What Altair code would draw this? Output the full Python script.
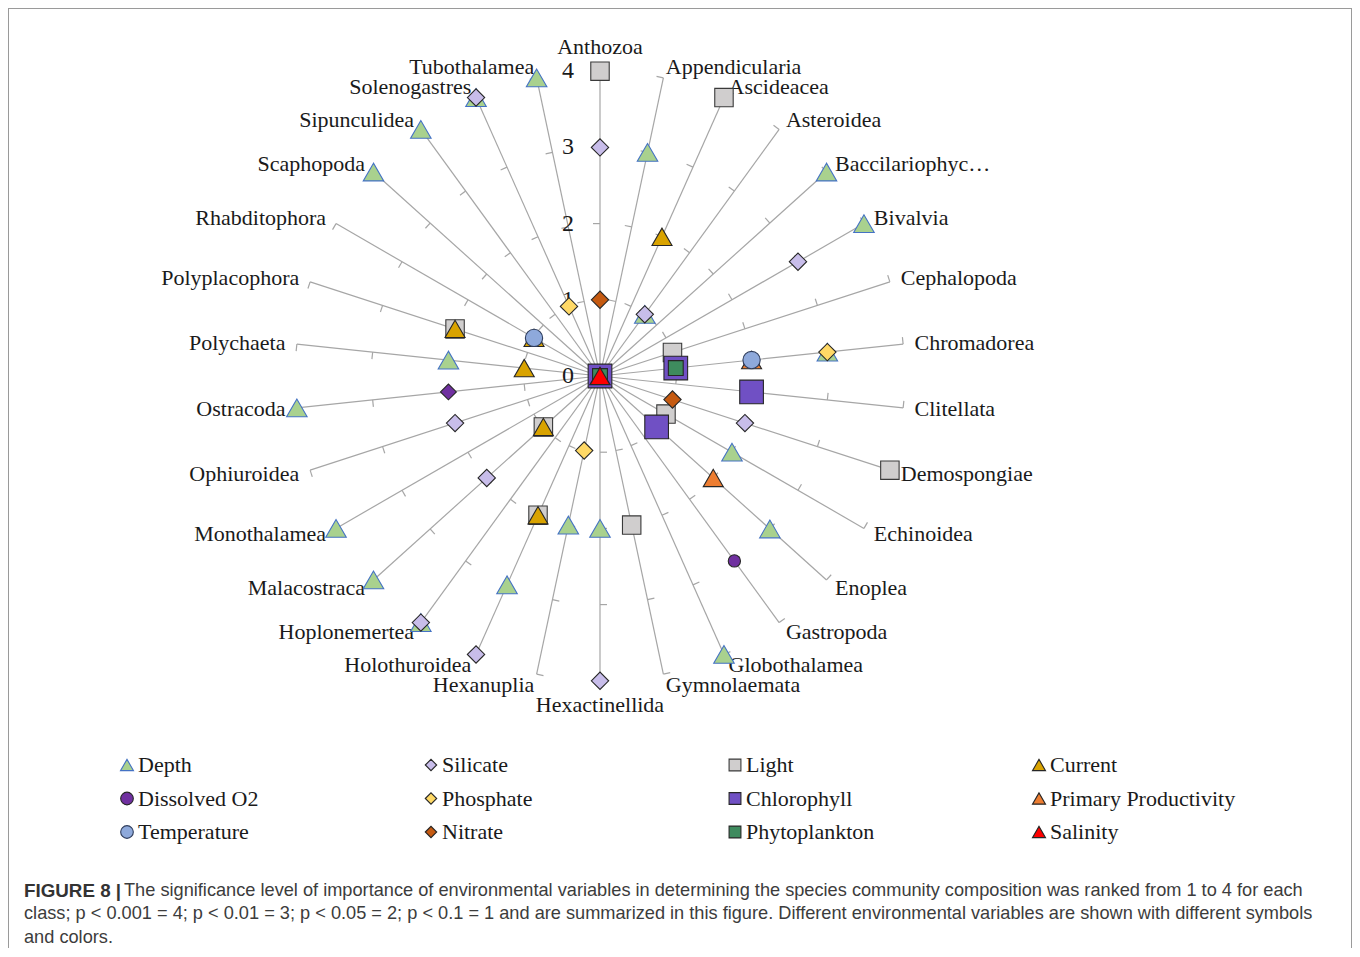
import altair as alt
import pandas as pd

# ---------------- data ----------------
CLASSES = ["Anthozoa", "Appendicularia", "Ascideacea", "Asteroidea", "Baccilariophyc…",
           "Bivalvia", "Cephalopoda", "Chromadorea", "Clitellata", "Demospongiae",
           "Echinoidea", "Enoplea", "Gastropoda", "Globothalamea", "Gymnolaemata",
           "Hexactinellida", "Hexanuplia", "Holothuroidea", "Hoplonemertea", "Malacostraca",
           "Monothalamea", "Ophiuroidea", "Ostracoda", "Polychaeta", "Polyplacophora",
           "Rhabditophora", "Scaphopoda", "Sipunculidea", "Solenogastres", "Tubothalamea"]

SERIES = ["Depth", "Silicate", "Light", "Current",
          "Dissolved O2", "Phosphate", "Chlorophyll", "Primary Productivity",
          "Temperature", "Nitrate", "Phytoplankton", "Salinity"]

PT_CLASS = ["Anthozoa", "Anthozoa", "Anthozoa", "Anthozoa", "Anthozoa", "Anthozoa", "Anthozoa", "Anthozoa",
            "Appendicularia",
            "Ascideacea", "Ascideacea",
            "Asteroidea", "Asteroidea",
            "Baccilariophyc…",
            "Bivalvia", "Bivalvia",
            "Cephalopoda",
            "Chromadorea", "Chromadorea", "Chromadorea", "Chromadorea", "Chromadorea", "Chromadorea",
            "Clitellata",
            "Demospongiae", "Demospongiae", "Demospongiae",
            "Echinoidea", "Echinoidea",
            "Enoplea", "Enoplea", "Enoplea",
            "Gastropoda",
            "Globothalamea",
            "Gymnolaemata",
            "Hexactinellida", "Hexactinellida",
            "Hexanuplia", "Hexanuplia",
            "Holothuroidea", "Holothuroidea", "Holothuroidea", "Holothuroidea",
            "Hoplonemertea", "Hoplonemertea",
            "Malacostraca", "Malacostraca", "Malacostraca", "Malacostraca",
            "Monothalamea",
            "Ophiuroidea",
            "Ostracoda", "Ostracoda",
            "Polychaeta", "Polychaeta",
            "Polyplacophora", "Polyplacophora",
            "Rhabditophora", "Rhabditophora",
            "Scaphopoda",
            "Sipunculidea",
            "Solenogastres", "Solenogastres", "Solenogastres",
            "Tubothalamea"]

PT_SERIES = ["Light", "Silicate", "Nitrate", "Current", "Chlorophyll", "Primary Productivity", "Phytoplankton", "Salinity",
             "Depth",
             "Light", "Current",
             "Depth", "Silicate",
             "Depth",
             "Depth", "Silicate",
             "Light",
             "Depth", "Phosphate", "Primary Productivity", "Temperature", "Chlorophyll", "Phytoplankton",
             "Chlorophyll",
             "Light", "Silicate", "Nitrate",
             "Depth", "Light",
             "Depth", "Primary Productivity", "Chlorophyll",
             "Dissolved O2",
             "Depth",
             "Light",
             "Silicate", "Depth",
             "Depth", "Phosphate",
             "Silicate", "Depth", "Light", "Current",
             "Depth", "Silicate",
             "Depth", "Silicate", "Light", "Current",
             "Depth",
             "Silicate",
             "Depth", "Dissolved O2",
             "Depth", "Current",
             "Light", "Current",
             "Current", "Temperature",
             "Depth",
             "Depth",
             "Depth", "Silicate", "Phosphate",
             "Depth"]

PT_VALUE = [4, 3, 1, 0, 0, 0, 0, 0,
            3,
            4, 2,
            1, 1,
            4,
            4, 3,
            1,
            3, 3, 2, 2, 1, 1,
            2,
            4, 2, 1,
            2, 1,
            3, 2, 1,
            3,
            4,
            2,
            4, 2,
            2, 1,
            4, 3, 2, 2,
            4, 4,
            4, 2, 1, 1,
            4,
            2,
            4, 2,
            2, 1,
            2, 2,
            1, 1,
            4,
            4,
            4, 4, 1,
            4]

RADIAL_TICKS = [0, 1, 2, 3, 4]
TICK_STEPS = [1, 2, 3, 4]

CAPTION_BOLD = "FIGURE 8 |"
CAPTION_LINES = [
    "The significance level of importance of environmental variables in determining the species community composition was ranked from 1 to 4 for each",
    "class; p < 0.001 = 4; p < 0.01 = 3; p < 0.05 = 2; p < 0.1 = 1 and are summarized in this figure. Different environmental variables are shown with different symbols",
    "and colors.",
]

# ---------------- styles ----------------
SHAPES = ["triangle-up", "diamond", "square", "triangle-up",
          "circle", "diamond", "square", "triangle-up",
          "circle", "diamond", "square", "triangle-up"]
FILLS = ["#A9D18E", "#C8BDEA", "#D0CECE", "#D9A300",
         "#7030A0", "#FFD966", "#7050C4", "#ED7D31",
         "#8EA9DB", "#C55A11", "#3E8B5E", "#FF0000"]
STROKES = ["#4472C4", "#262626", "#3A3A3A", "#262626",
           "#262626", "#262626", "#262626", "#262626",
           "#2F3D5C", "#262626", "#262626", "#262626"]
SIZES = [420, 300, 340, 400,
         150, 300, 560, 400,
         300, 300, 220, 380]
LEG_SIZES = [170, 130, 140, 170,
             160, 130, 140, 170,
             160, 130, 140, 170]

SERIF = "Liberation Serif"
SANS = "Liberation Sans, Arial"

W, H = 1344, 940
CX, CY, U = 592.0, 368.0, 76.2
XS = alt.Scale(domain=[-CX / U, (W - CX) / U], nice=False, zero=False)
YS = alt.Scale(domain=[-(H - CY) / U, CY / U], nice=False, zero=False)
N = len(CLASSES)
ANG = f"datum.idx*2*PI/{N}"


def X(field):
    return alt.X(f"{field}:Q", scale=XS, axis=None)


def Y(field):
    return alt.Y(f"{field}:Q", scale=YS, axis=None)


def px_to_x(expr):
    return f"(({expr}) - {CX})/{U}"


def py_to_y(expr):
    return f"({CY} - ({expr}))/{U}"


def enc_scales(field, sizes):
    return dict(
        shape=alt.Shape(f"{field}:N", scale=alt.Scale(type="ordinal", domain=SERIES, range=SHAPES), legend=None),
        size=alt.Size(f"{field}:N", scale=alt.Scale(type="ordinal", domain=SERIES, range=sizes), legend=None),
        fill=alt.Fill(f"{field}:N", scale=alt.Scale(domain=SERIES, range=FILLS), legend=None),
        stroke=alt.Stroke(f"{field}:N", scale=alt.Scale(domain=SERIES, range=STROKES), legend=None),
    )


cls_df = pd.DataFrame({"cls": CLASSES, "idx": list(range(N))})

# axis spokes
spokes = alt.Chart(cls_df).transform_calculate(
    a=ANG, x0="0", y0="0", x1="4*sin(datum.a)", y1="4*cos(datum.a)"
).mark_rule(color="#A6A6A6", strokeWidth=1.2).encode(
    x=X("x0"), y=Y("y0"), x2="x1:Q", y2="y1:Q"
)

# tick marks
tick_df = pd.DataFrame([{"idx": i, "r": r} for i in range(N) for r in TICK_STEPS])
L = 7.0 / U
ticks = alt.Chart(tick_df).transform_calculate(
    a=ANG,
    tx0="datum.r*sin(datum.a)",
    ty0="datum.r*cos(datum.a)",
).transform_calculate(
    tx1=f"datum.tx0 - {L}*cos(datum.a)",
    ty1=f"datum.ty0 + {L}*sin(datum.a)",
).mark_rule(color="#A6A6A6", strokeWidth=1.2).encode(
    x=X("tx0"), y=Y("ty0"), x2="tx1:Q", y2="ty1:Q"
)

# radial numbers
num_df = pd.DataFrame({"v": RADIAL_TICKS})
nums = alt.Chart(num_df).transform_calculate(
    nx=str(-32.0 / U), lab="datum.v + ''"
).mark_text(font=SERIF, fontSize=24, color="#1A1A1A", align="center", baseline="middle").encode(
    x=X("nx"), y=Y("v"), text="lab:N"
)

# class labels
lab_base = alt.Chart(cls_df).transform_calculate(
    a=ANG, s="sin(datum.a)", c="cos(datum.a)"
)
R_SIDE, R_TB = 4.15, 4.32
lab_right = lab_base.transform_filter("datum.s > 0.01").transform_calculate(
    lx=f"{R_SIDE}*datum.s", ly=f"{R_SIDE}*datum.c"
).mark_text(font=SERIF, fontSize=22, color="#1A1A1A", align="left", baseline="middle").encode(
    x=X("lx"), y=Y("ly"), text="cls:N"
)
lab_left = lab_base.transform_filter("datum.s < -0.01").transform_calculate(
    lx=f"{R_SIDE}*datum.s", ly=f"{R_SIDE}*datum.c"
).mark_text(font=SERIF, fontSize=22, color="#1A1A1A", align="right", baseline="middle").encode(
    x=X("lx"), y=Y("ly"), text="cls:N"
)
lab_mid = lab_base.transform_filter("abs(datum.s) <= 0.01").transform_calculate(
    lx="0", ly=f"{R_TB}*datum.c"
).mark_text(font=SERIF, fontSize=22, color="#1A1A1A", align="center", baseline="middle").encode(
    x=X("lx"), y=Y("ly"), text="cls:N"
)

# points
pts = pd.DataFrame({"cls": PT_CLASS, "series": PT_SERIES, "value": PT_VALUE})
pts["idx"] = [CLASSES.index(c) for c in pts["cls"]]
pts["sidx"] = [SERIES.index(s) for s in pts["series"]]
pts = pts.sort_values("sidx", kind="stable").reset_index(drop=True)

odd = "datum.series == 'Dissolved O2' && datum.cls == 'Ostracoda'"
pe = enc_scales("series", SIZES)
points = alt.Chart(pts).transform_calculate(
    a=ANG, px="datum.value*sin(datum.a)", py="datum.value*cos(datum.a)"
).mark_point(filled=True, opacity=1, strokeWidth=1.1).encode(
    x=X("px"), y=Y("py"),
    shape=alt.condition(odd, alt.value("diamond"), pe["shape"]),
    size=alt.condition(odd, alt.value(250), pe["size"]),
    fill=pe["fill"],
    stroke=pe["stroke"],
)

# custom legend (independent size scale)
leg_df = pd.DataFrame({"series": SERIES, "i": list(range(len(SERIES)))})
leg_base = alt.Chart(leg_df).transform_calculate(
    col="datum.i % 4", row="floor(datum.i / 4)"
).transform_calculate(
    mx=px_to_x("119 + datum.col*304"),
    tx=px_to_x("130 + datum.col*304"),
    my=py_to_y("757 + datum.row*33.5"),
)
le = enc_scales("series", LEG_SIZES)
leg_marks = leg_base.mark_point(filled=True, opacity=1, strokeWidth=1.1).encode(
    x=X("mx"), y=Y("my"), **le
)
leg_text = leg_base.mark_text(font=SERIF, fontSize=22, color="#1A1A1A", align="left", baseline="middle").encode(
    x=X("tx"), y=Y("my"), text="series:N"
)

# caption
CAP_SIZE = 18.2
cap_df = pd.DataFrame({"line": CAPTION_LINES, "k": list(range(len(CAPTION_LINES)))})
cap_text = alt.Chart(cap_df).transform_calculate(
    cx=px_to_x("datum.k == 0 ? 116 : 16"),
    cy=py_to_y("882.5 + datum.k*23.5"),
).mark_text(font=SANS, fontSize=CAP_SIZE, color="#3C3C3C", align="left", baseline="middle").encode(
    x=X("cx"), y=Y("cy"), text="line:N"
)
bold_df = pd.DataFrame({"t": [CAPTION_BOLD]})
cap_bold = alt.Chart(bold_df).transform_calculate(
    cx=px_to_x("16"), cy=py_to_y("882.5")
).mark_text(font=SANS, fontSize=CAP_SIZE + 0.6, fontWeight="bold", color="#333333", align="left", baseline="middle").encode(
    x=X("cx"), y=Y("cy"), text="t:N"
)

# frame (left, top, right)
one = pd.DataFrame({"d": [0]})
frame_l = alt.Chart(one).mark_rule(color="#9A9A9A", strokeWidth=1).encode(
    x=alt.value(0.5), y=alt.value(0), y2=alt.value(H))
frame_t = alt.Chart(one).mark_rule(color="#9A9A9A", strokeWidth=1).encode(
    x=alt.value(0), x2=alt.value(W), y=alt.value(0.5))
frame_r = alt.Chart(one).mark_rule(color="#9A9A9A", strokeWidth=1).encode(
    x=alt.value(W - 0.5), y=alt.value(0), y2=alt.value(H))

chart = alt.layer(
    spokes, ticks, nums, lab_right, lab_left, lab_mid, points,
    leg_marks, leg_text, cap_text, cap_bold, frame_l, frame_t, frame_r
).resolve_scale(
    size="independent"
).properties(
    width=W, height=H, padding=0, background="white",
    autosize=alt.AutoSizeParams(type="none")
).configure_view(stroke=None)

chart.save("out.html", embed_options={"renderer": "svg", "actions": False})
